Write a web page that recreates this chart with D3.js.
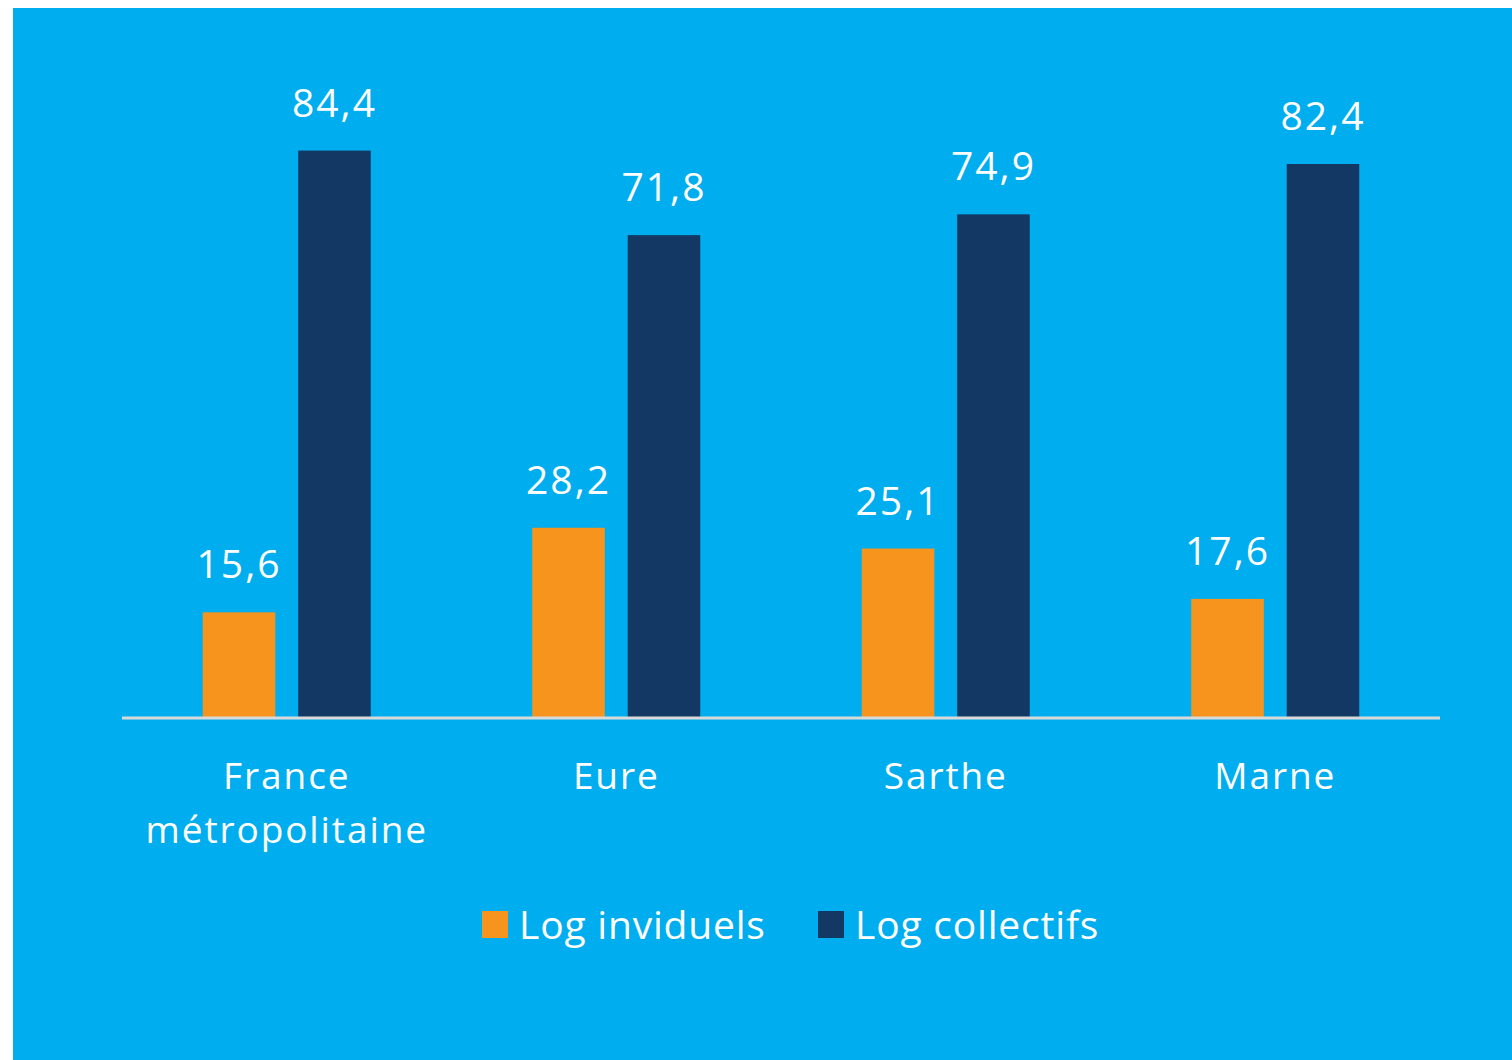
<!DOCTYPE html>
<html>
<head>
<meta charset="utf-8">
<script src="https://cdn.jsdelivr.net/npm/d3@7"></script>
<style>
  body { margin: 0; background: #fff; }
  text { font-family: "Open Sans", sans-serif; fill: #fff; }
</style>
</head>
<body>
<script>
// donnees
var categories = [["France", "métropolitaine"], ["Eure"], ["Sarthe"], ["Marne"]];
var series = ["Log inviduels", "Log collectifs"];
var individuels = [15.6, 28.2, 25.1, 17.6];
var collectifs = [84.4, 71.8, 74.9, 82.4];
var colors = ["#f7941d", "#133864"];

var width = 1512, height = 1060;
var svg = d3.select("body").append("svg")
    .attr("width", width)
    .attr("height", height);

svg.append("rect")
    .attr("x", 13).attr("y", 8)
    .attr("width", width - 13).attr("height", height - 8)
    .attr("fill", "#00aeef");

var x0 = d3.scaleBand()
    .domain(d3.range(categories.length))
    .range([122, 1440]);

var x1 = d3.scaleBand()
    .domain([0, 1])
    .range([0, 168])
    .paddingInner(0.24);

var y = d3.scaleLinear()
    .domain([0, 90])
    .range([717, 113]);

var rows = categories.map(function(c, i) {
    return [individuels[i], collectifs[i]];
});

var group = svg.selectAll(".grp")
    .data(rows)
    .enter().append("g")
    .attr("class", "grp")
    .attr("transform", function(d, i) {
        return "translate(" + (x0(i) + x0.bandwidth() / 2 - 84) + ",0)";
    });

group.selectAll("rect")
    .data(function(d) { return d; })
    .enter().append("rect")
    .attr("x", function(d, j) { return x1(j); })
    .attr("y", function(d) { return y(d); })
    .attr("width", x1.bandwidth())
    .attr("height", function(d) { return y(0) - y(d); })
    .attr("fill", function(d, j) { return colors[j]; });

group.selectAll("text")
    .data(function(d) { return d; })
    .enter().append("text")
    .attr("x", function(d, j) { return x1(j) + x1.bandwidth() / 2; })
    .attr("y", function(d) { return y(d) - 34; })
    .attr("text-anchor", "middle")
    .style("font-size", "39px")
    .style("letter-spacing", "2px")
    .text(function(d) { return d3.format(".1f")(d).replace(".", ","); });

// axe
svg.append("line")
    .attr("x1", 122).attr("x2", 1440)
    .attr("y1", 718).attr("y2", 718)
    .attr("stroke", "#d9d9d9")
    .attr("stroke-width", 3);

svg.selectAll(".cat")
    .data(categories)
    .enter().append("text")
    .attr("class", "cat")
    .attr("text-anchor", "middle")
    .attr("y", 789)
    .style("font-size", "37px")
    .style("letter-spacing", "1.9px")
    .each(function(d, i) {
        var t = d3.select(this);
        d.forEach(function(line, k) {
            t.append("tspan")
                .attr("x", x0(i) + x0.bandwidth() / 2)
                .attr("dy", k === 0 ? 0 : 54)
                .text(line);
        });
    });

// legende
var legX = [482, 818];
var leg = svg.selectAll(".leg")
    .data(series)
    .enter().append("g")
    .attr("class", "leg")
    .attr("transform", function(d, i) { return "translate(" + legX[i] + ",0)"; });

leg.append("rect")
    .attr("x", 0).attr("y", 911)
    .attr("width", 26).attr("height", 27)
    .attr("fill", function(d, i) { return colors[i]; });

leg.append("text")
    .attr("x", 37).attr("y", 939)
    .style("font-size", "39px")
    .style("letter-spacing", "0.8px")
    .text(function(d) { return d; });
</script>
</body>
</html>
